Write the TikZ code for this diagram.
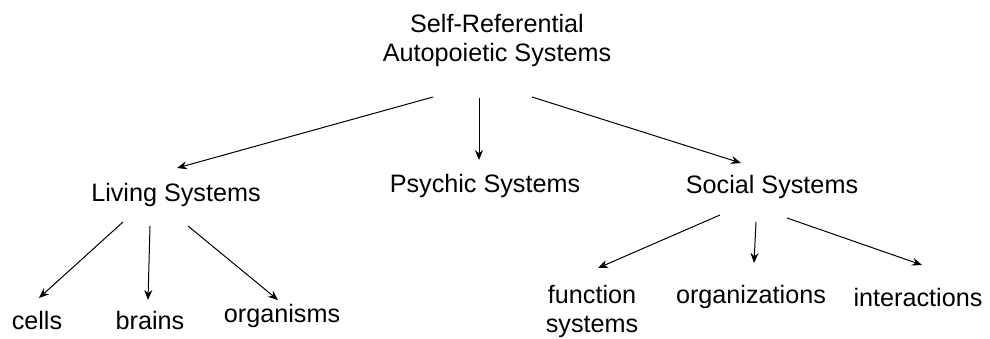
\documentclass[tikz,border=0pt]{standalone}
\usepackage{fontspec}
\setmainfont{Liberation Sans}
\usetikzlibrary{arrows.meta,calc}
\begin{document}
\begin{tikzpicture}[x=0.5pt,y=-0.5pt,
  lbl/.style={font=\fontsize{12.6}{14.5}\selectfont, inner sep=0pt, align=center},
  arr/.style={-{Stealth[length=5pt,width=4pt]}, line width=0.5pt}]
\useasboundingbox (0,0) rectangle (990,338);
\node[lbl] (title) at (497,40) {Self-Referential\\Autopoietic Systems};
\node[lbl] (living) at (176,195) {Living Systems};
\node[lbl] (psychic) at (485,186) {Psychic Systems};
\node[lbl] (social) at (772,187) {Social Systems};
\node[lbl] (cells) at (37,320) {cells};
\node[lbl] (brains) at (150,320) {brains};
\node[lbl] (organisms) at (282,316) {organisms};
\node[lbl] (function) at (592,311) {function\\systems};
\node[lbl] (organizations) at (751,297) {organizations};
\node[lbl] (interactions) at (918,297) {interactions};
% top level
\draw[arr] ($(title.center)+(-64,57)$) -- ($(living.center)+(1,-27)$);
\draw[arr] ($(title.center)+(-18,58)$) -- ($(psychic.center)+(-6,-26)$);
\draw[arr] ($(title.center)+(35,57)$) -- ($(social.center)+(-31,-24)$);
% living
\draw[arr] ($(living.center)+(-53,27)$) -- ($(cells.center)+(2,-22)$);
\draw[arr] ($(living.center)+(-26,31)$) -- ($(brains.center)+(-2,-20)$);
\draw[arr] ($(living.center)+(12,31)$) -- ($(organisms.center)+(-4,-16)$);
% social
\draw[arr] ($(social.center)+(-52,28)$) -- ($(function.center)+(6,-43)$);
\draw[arr] ($(social.center)+(-16,35)$) -- ($(organizations.center)+(3,-34)$);
\draw[arr] ($(social.center)+(15,31)$) -- ($(interactions.center)+(4,-32)$);
\end{tikzpicture}
\end{document}
